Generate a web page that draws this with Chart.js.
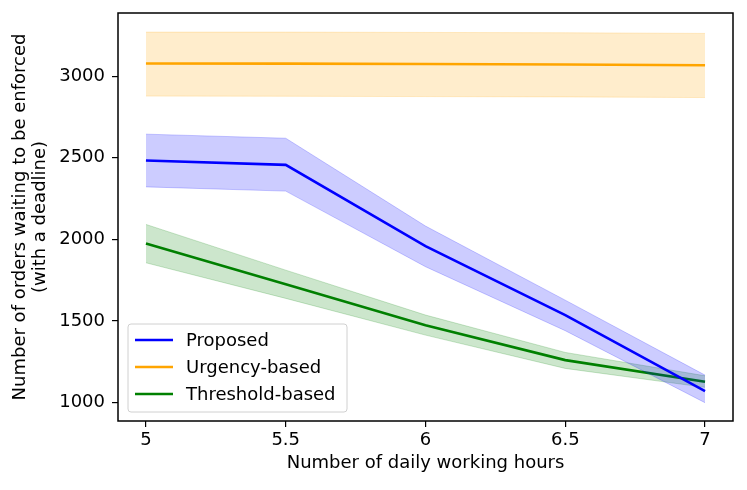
<!DOCTYPE html>
<html>
<head>
<meta charset="utf-8">
<script src="https://cdn.jsdelivr.net/npm/chart.js@4.4.1/dist/chart.umd.min.js"></script>
<style>
  html, body { margin: 0; padding: 0; background: #fff; }
  #wrap { width: 747px; height: 490px; }
</style>
</head>
<body>
<div id="wrap"><canvas id="chart"></canvas></div>
<script>
// data
const hours = [5, 5.5, 6, 6.5, 7];
const xTickLabels = ['5', '5.5', '6', '6.5', '7'];
const yTicks = [1000, 1500, 2000, 2500, 3000];

const proposedMean = [2484, 2457, 1959, 1537, 1071];
const proposedUpper = [2645, 2620, 2082, 1628, 1169];
const proposedLower = [2322, 2296, 1833, 1441, 1000];

const urgencyMean = [3078, 3077, 3075, 3072, 3067];
const urgencyUpper = [3270, 3270, 3268, 3266, 3262];
const urgencyLower = [2878, 2877, 2875, 2873, 2869];

const thresholdMean = [1975, 1726, 1475, 1261, 1128];
const thresholdUpper = [2092, 1812, 1537, 1308, 1165];
const thresholdLower = [1857, 1639, 1414, 1210, 1094];

const FONT = 'DejaVu Sans';
const FS = 18;

function pts(values) {
    return values.map((v, i) => ({ x: hours[i], y: v }));
}

// a band = lower edge + upper edge filled down to it, then the mean line
function band(label, color, fillColor, mean, upper, lower, base) {
    return [
        { label: label + ' low', data: pts(lower), borderColor: fillColor, borderWidth: 1,
          pointRadius: 0, fill: false, legend: false },
        { label: label + ' high', data: pts(upper), borderColor: fillColor, borderWidth: 1,
          pointRadius: 0, backgroundColor: fillColor, fill: base, legend: false },
        { label: label, data: pts(mean), borderColor: color, borderWidth: 2.6,
          pointRadius: 0, fill: false, legend: true }
    ];
}

const datasets = [].concat(
    band('Proposed', '#0000ff', 'rgba(0,0,255,0.2)', proposedMean, proposedUpper, proposedLower, 0),
    band('Urgency-based', '#ffa500', 'rgba(255,165,0,0.2)', urgencyMean, urgencyUpper, urgencyLower, 3),
    band('Threshold-based', '#008000', 'rgba(0,128,0,0.2)', thresholdMean, thresholdUpper, thresholdLower, 6)
);

// box around the plot + matplotlib-like legend in the lower left corner
const framePlugin = {
    id: 'frame',
    afterDraw(chart) {
        const { ctx, chartArea: a } = chart;
        ctx.save();
        ctx.strokeStyle = '#000';
        ctx.lineWidth = 1.5;
        ctx.strokeRect(a.left, a.top, a.right - a.left, a.bottom - a.top);

        const items = chart.data.datasets.filter(d => d.legend);
        const x0 = a.left + 10, y0 = a.bottom - 97, w = 219, h = 88;
        ctx.fillStyle = 'rgba(255,255,255,0.8)';
        ctx.strokeStyle = '#d0d0d0';
        ctx.lineWidth = 1;
        ctx.beginPath();
        ctx.roundRect(x0, y0, w, h, 3);
        ctx.fill();
        ctx.stroke();
        ctx.font = FS + 'px "' + FONT + '"';
        ctx.textBaseline = 'middle';
        items.forEach((d, i) => {
            const y = y0 + 16 + i * 27;
            ctx.strokeStyle = d.borderColor;
            ctx.lineWidth = 2.6;
            ctx.beginPath();
            ctx.moveTo(x0 + 7, y);
            ctx.lineTo(x0 + 45, y);
            ctx.stroke();
            ctx.fillStyle = '#000';
            ctx.fillText(d.label, x0 + 58, y + 1);
        });
        ctx.restore();
    }
};

new Chart(document.getElementById('chart'), {
    type: 'line',
    data: { datasets: datasets },
    plugins: [framePlugin],
    options: {
        responsive: true,
        maintainAspectRatio: false,
        animation: false,
        layout: { padding: { left: 0, right: 14, top: 13, bottom: 0 } },
        plugins: {
            legend: { display: false },
            tooltip: { enabled: false }
        },
        scales: {
            x: {
                type: 'linear',
                min: 4.9,
                max: 7.1,
                afterBuildTicks: s => { s.ticks = hours.map(v => ({ value: v })); },
                afterFit: s => { s.height = 69; s.paddingLeft = 0; s.paddingRight = 0; },
                grid: { display: true, drawOnChartArea: false, drawTicks: true, tickLength: 6, lineWidth: 1.2, color: '#000' },
                border: { display: false },
                ticks: {
                    color: '#000',
                    font: { family: FONT, size: FS },
                    padding: 3,
                    maxRotation: 0,
                    callback: (v, i) => xTickLabels[i]
                },
                title: {
                    display: true,
                    text: 'Number of daily working hours',
                    color: '#000',
                    font: { family: FONT, size: FS },
                    padding: { top: 0, bottom: 16 }
                }
            },
            y: {
                min: 888,
                max: 3387,
                afterBuildTicks: s => { s.ticks = yTicks.map(v => ({ value: v })); },
                afterFit: s => { s.width = 118; s.paddingTop = 0; s.paddingBottom = 0; },
                grid: { display: true, drawOnChartArea: false, drawTicks: true, tickLength: 6, lineWidth: 1.2, color: '#000' },
                border: { display: false },
                ticks: {
                    color: '#000',
                    font: { family: FONT, size: FS },
                    padding: 7,
                    callback: v => String(v)
                },
                title: {
                    display: true,
                    text: ['Number of orders waiting to be enforced', '(with a deadline)'],
                    color: '#000',
                    font: { family: FONT, size: FS, lineHeight: 1.12 },
                    padding: { top: 10, bottom: 0 }
                }
            }
        }
    }
});
</script>
</body>
</html>
